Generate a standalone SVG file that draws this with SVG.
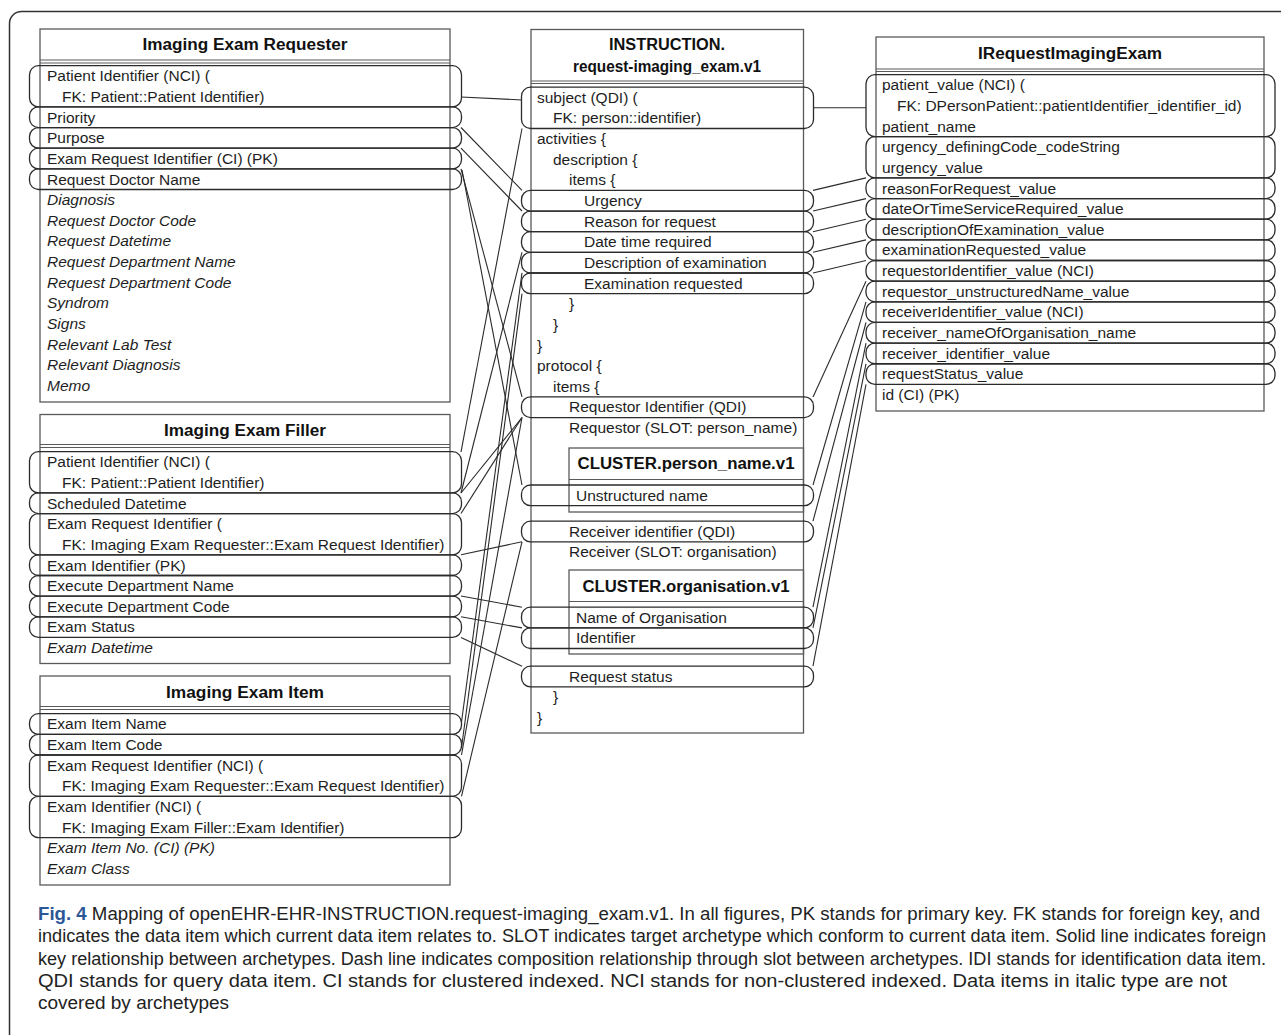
<svg xmlns="http://www.w3.org/2000/svg" width="1281" height="1035" viewBox="0 0 1281 1035">
<style>
.t{font-family:"Liberation Sans",Arial,sans-serif;font-size:15.5px;fill:#1e1e1e}
.i{font-style:italic}
.h{font-family:"Liberation Sans",Arial,sans-serif;font-size:16px;font-weight:bold;fill:#111;text-anchor:middle}
.box{fill:none;stroke:#5a5a5a;stroke-width:1.3}
.sep{stroke:#5a5a5a;stroke-width:1.2}
.row{fill:none;stroke:#2b2b2b;stroke-width:1.3}
#connectors line{stroke:#2b2b2b;stroke-width:1.1}
.cap{font-family:"Liberation Sans",Arial,sans-serif;font-size:17.5px;fill:#222}
.fig{font-weight:bold;fill:#2b5797}
</style>
<rect x="0" y="0" width="1281" height="1035" fill="#ffffff"/>
<rect x="9.5" y="11.5" width="1300" height="1040" rx="12" fill="none" stroke="#333" stroke-width="1.5"/>

<g id="imaging-exam-requester">
<rect class="box" x="40" y="29" width="410" height="373"/>
<line class="sep" x1="40" y1="60" x2="450" y2="60"/>
<line class="sep" x1="40" y1="63" x2="450" y2="63"/>
<text class="h" x="245" y="50" textLength="205" lengthAdjust="spacingAndGlyphs">Imaging Exam Requester</text>
<rect class="row" x="29.5" y="65.7" width="432" height="41.2" rx="9"/>
<rect class="row" x="29.5" y="106.9" width="432" height="20.65" rx="9"/>
<rect class="row" x="29.5" y="127.55" width="432" height="20.65" rx="9"/>
<rect class="row" x="29.5" y="148.2" width="432" height="20.65" rx="9"/>
<rect class="row" x="29.5" y="168.85" width="432" height="20.65" rx="9"/>
<text class="t" x="47" y="81.2">Patient Identifier (NCI) (</text>
<text class="t" x="62" y="101.9">FK: Patient::Patient Identifier)</text>
<text class="t" x="47" y="122.5">Priority</text>
<text class="t" x="47" y="143.2">Purpose</text>
<text class="t" x="47" y="163.8">Exam Request Identifier (CI) (PK)</text>
<text class="t" x="47" y="184.5">Request Doctor Name</text>
<text class="t i" x="47" y="205.1">Diagnosis</text>
<text class="t i" x="47" y="225.8">Request Doctor Code</text>
<text class="t i" x="47" y="246.4">Request Datetime</text>
<text class="t i" x="47" y="267.1">Request Department Name</text>
<text class="t i" x="47" y="287.7">Request Department Code</text>
<text class="t i" x="47" y="308.4">Syndrom</text>
<text class="t i" x="47" y="329">Signs</text>
<text class="t i" x="47" y="349.7">Relevant Lab Test</text>
<text class="t i" x="47" y="370.3">Relevant Diagnosis</text>
<text class="t i" x="47" y="391">Memo</text>
</g>

<g id="imaging-exam-filler">
<rect class="box" x="40" y="414.5" width="410" height="249"/>
<line class="sep" x1="40" y1="444.5" x2="450" y2="444.5"/>
<line class="sep" x1="40" y1="447.5" x2="450" y2="447.5"/>
<text class="h" x="245" y="436" textLength="162" lengthAdjust="spacingAndGlyphs">Imaging Exam Filler</text>
<rect class="row" x="29.5" y="451.7" width="432" height="41.2" rx="9"/>
<rect class="row" x="29.5" y="492.9" width="432" height="20.65" rx="9"/>
<rect class="row" x="29.5" y="513.55" width="432" height="41.3" rx="9"/>
<rect class="row" x="29.5" y="554.85" width="432" height="20.65" rx="9"/>
<rect class="row" x="29.5" y="575.5" width="432" height="20.65" rx="9"/>
<rect class="row" x="29.5" y="596.15" width="432" height="20.65" rx="9"/>
<rect class="row" x="29.5" y="616.8" width="432" height="20.65" rx="9"/>
<text class="t" x="47" y="467.2">Patient Identifier (NCI) (</text>
<text class="t" x="62" y="487.9">FK: Patient::Patient Identifier)</text>
<text class="t" x="47" y="508.5">Scheduled Datetime</text>
<text class="t" x="47" y="529.2">Exam Request Identifier (</text>
<text class="t" x="62" y="549.8">FK: Imaging Exam Requester::Exam Request Identifier)</text>
<text class="t" x="47" y="570.5">Exam Identifier (PK)</text>
<text class="t" x="47" y="591.1">Execute Department Name</text>
<text class="t" x="47" y="611.8">Execute Department Code</text>
<text class="t" x="47" y="632.4">Exam Status</text>
<text class="t i" x="47" y="653.1">Exam Datetime</text>
</g>

<g id="imaging-exam-item">
<rect class="box" x="40" y="676" width="410" height="209"/>
<line class="sep" x1="40" y1="706.5" x2="450" y2="706.5"/>
<line class="sep" x1="40" y1="709.5" x2="450" y2="709.5"/>
<text class="h" x="245" y="698" textLength="158" lengthAdjust="spacingAndGlyphs">Imaging Exam Item</text>
<rect class="row" x="29.5" y="713.7" width="432" height="20.65" rx="9"/>
<rect class="row" x="29.5" y="734.35" width="432" height="20.65" rx="9"/>
<rect class="row" x="29.5" y="755" width="432" height="41.3" rx="9"/>
<rect class="row" x="29.5" y="796.3" width="432" height="41.3" rx="9"/>
<text class="t" x="47" y="729.2">Exam Item Name</text>
<text class="t" x="47" y="749.9">Exam Item Code</text>
<text class="t" x="47" y="770.5">Exam Request Identifier (NCI) (</text>
<text class="t" x="62" y="791.2">FK: Imaging Exam Requester::Exam Request Identifier)</text>
<text class="t" x="47" y="811.8">Exam Identifier (NCI) (</text>
<text class="t" x="62" y="832.5">FK: Imaging Exam Filler::Exam Identifier)</text>
<text class="t i" x="47" y="853.1">Exam Item No. (CI) (PK)</text>
<text class="t i" x="47" y="873.8">Exam Class</text>
</g>

<g id="instruction-request-imaging-exam">
<rect class="box" x="531" y="29.5" width="272.5" height="703.5"/>
<line class="sep" x1="531" y1="81" x2="803.5" y2="81"/>
<line class="sep" x1="531" y1="83.5" x2="803.5" y2="83.5"/>
<text class="h" x="667" y="50" textLength="116" lengthAdjust="spacingAndGlyphs">INSTRUCTION.</text>
<text class="h" x="667" y="72" textLength="188" lengthAdjust="spacingAndGlyphs">request-imaging_exam.v1</text>
<rect class="row" x="521.5" y="87.2" width="292" height="41.3" rx="9"/>
<rect class="row" x="521.5" y="190.4" width="292" height="20.65" rx="9"/>
<rect class="row" x="521.5" y="211.05" width="292" height="20.65" rx="9"/>
<rect class="row" x="521.5" y="231.7" width="292" height="20.65" rx="9"/>
<rect class="row" x="521.5" y="252.35" width="292" height="20.65" rx="9"/>
<rect class="row" x="521.5" y="273" width="292" height="20.65" rx="9"/>
<rect class="row" x="521.5" y="396.9" width="292" height="20.65" rx="9"/>
<text class="t" x="537" y="102.7">subject (QDI) (</text>
<text class="t" x="553" y="123.3">FK: person::identifier)</text>
<text class="t" x="537" y="144">activities {</text>
<text class="t" x="553" y="164.6">description {</text>
<text class="t" x="569" y="185.3">items {</text>
<text class="t" x="584" y="205.9">Urgency</text>
<text class="t" x="584" y="226.6">Reason for request</text>
<text class="t" x="584" y="247.2">Date time required</text>
<text class="t" x="584" y="267.9">Description of examination</text>
<text class="t" x="584" y="288.5">Examination requested</text>
<text class="t" x="569" y="309.2">}</text>
<text class="t" x="553" y="329.8">}</text>
<text class="t" x="537" y="350.5">}</text>
<text class="t" x="537" y="371.1">protocol {</text>
<text class="t" x="553" y="391.8">items {</text>
<text class="t" x="569" y="412.4">Requestor Identifier (QDI)</text>
<text class="t" x="569" y="433.1">Requestor (SLOT: person_name)</text>
<g id="cluster-person-name">
<rect class="box" x="569" y="448" width="234.5" height="64"/>
<line class="sep" x1="569" y1="479.5" x2="803.5" y2="479.5"/>
<text class="h" x="686" y="469" textLength="217" lengthAdjust="spacingAndGlyphs">CLUSTER.person_name.v1</text>
<rect class="row" x="521.5" y="485" width="292" height="20.65" rx="9"/>
<text class="t" x="576" y="500.5">Unstructured name</text>
</g>
<rect class="row" x="521.5" y="521.2" width="292" height="20.65" rx="9"/>
<text class="t" x="569" y="536.7">Receiver identifier (QDI)</text>
<text class="t" x="569" y="557.3">Receiver (SLOT: organisation)</text>
<g id="cluster-organisation">
<rect class="box" x="569" y="570" width="234.5" height="84"/>
<line class="sep" x1="569" y1="601.5" x2="803.5" y2="601.5"/>
<text class="h" x="686" y="591.5" textLength="207" lengthAdjust="spacingAndGlyphs">CLUSTER.organisation.v1</text>
<rect class="row" x="521.5" y="607.2" width="292" height="20.65" rx="9"/>
<rect class="row" x="521.5" y="627.85" width="292" height="20.65" rx="9"/>
<text class="t" x="576" y="622.7">Name of Organisation</text>
<text class="t" x="576" y="643.3">Identifier</text>
</g>
<rect class="row" x="521.5" y="666.2" width="292" height="20.65" rx="9"/>
<text class="t" x="569" y="681.7">Request status</text>
<text class="t" x="553" y="702.3">}</text>
<text class="t" x="537" y="723">}</text>
</g>

<g id="irequest-imaging-exam">
<rect class="box" x="876" y="37" width="388" height="374"/>
<line class="sep" x1="876" y1="69" x2="1264" y2="69"/>
<line class="sep" x1="876" y1="71.5" x2="1264" y2="71.5"/>
<text class="h" x="1070" y="59" textLength="184" lengthAdjust="spacingAndGlyphs">IRequestImagingExam</text>
<rect class="row" x="866" y="74.7" width="409" height="61.9" rx="9"/>
<rect class="row" x="866" y="136.6" width="409" height="41.3" rx="9"/>
<rect class="row" x="866" y="177.9" width="409" height="20.65" rx="9"/>
<rect class="row" x="866" y="198.55" width="409" height="20.65" rx="9"/>
<rect class="row" x="866" y="219.2" width="409" height="20.65" rx="9"/>
<rect class="row" x="866" y="239.85" width="409" height="20.65" rx="9"/>
<rect class="row" x="866" y="260.5" width="409" height="20.65" rx="9"/>
<rect class="row" x="866" y="281.15" width="409" height="20.65" rx="9"/>
<rect class="row" x="866" y="301.8" width="409" height="20.65" rx="9"/>
<rect class="row" x="866" y="322.45" width="409" height="20.65" rx="9"/>
<rect class="row" x="866" y="343.1" width="409" height="20.65" rx="9"/>
<rect class="row" x="866" y="363.75" width="409" height="20.65" rx="9"/>
<text class="t" x="882" y="90.2">patient_value (NCI) (</text>
<text class="t" x="897" y="110.8">FK: DPersonPatient::patientIdentifier_identifier_id)</text>
<text class="t" x="882" y="131.5">patient_name</text>
<text class="t" x="882" y="152.2">urgency_definingCode_codeString</text>
<text class="t" x="882" y="172.8">urgency_value</text>
<text class="t" x="882" y="193.5">reasonForRequest_value</text>
<text class="t" x="882" y="214.1">dateOrTimeServiceRequired_value</text>
<text class="t" x="882" y="234.8">descriptionOfExamination_value</text>
<text class="t" x="882" y="255.4">examinationRequested_value</text>
<text class="t" x="882" y="276.1">requestorIdentifier_value (NCI)</text>
<text class="t" x="882" y="296.7">requestor_unstructuredName_value</text>
<text class="t" x="882" y="317.4">receiverIdentifier_value (NCI)</text>
<text class="t" x="882" y="338">receiver_nameOfOrganisation_name</text>
<text class="t" x="882" y="358.7">receiver_identifier_value</text>
<text class="t" x="882" y="379.3">requestStatus_value</text>
<text class="t" x="882" y="400">id (CI) (PK)</text>
</g>

<g id="connectors">
<line x1="461" y1="97" x2="522" y2="100"/>
<line x1="461" y1="127.5" x2="522" y2="190.4"/>
<line x1="461" y1="148.2" x2="522" y2="211"/>
<line x1="461" y1="168.8" x2="522" y2="396.9"/>
<line x1="462" y1="170" x2="522" y2="485"/>
<line x1="461" y1="452" x2="522" y2="128.5"/>
<line x1="461" y1="493" x2="522" y2="252.3"/>
<line x1="461" y1="493" x2="522" y2="417.5"/>
<line x1="461" y1="513.5" x2="522" y2="417.5"/>
<line x1="461" y1="554.8" x2="522" y2="541.8"/>
<line x1="461" y1="596" x2="522" y2="607.2"/>
<line x1="461" y1="616.8" x2="522" y2="627.9"/>
<line x1="461" y1="637.4" x2="522" y2="666.2"/>
<line x1="461.5" y1="722" x2="522" y2="272.9"/>
<line x1="461.5" y1="748" x2="522" y2="293.6"/>
<line x1="461.5" y1="755" x2="522" y2="417.5"/>
<line x1="461.5" y1="796.3" x2="522" y2="541.8"/>
<line x1="813" y1="107.8" x2="866" y2="107.8"/>
<line x1="813" y1="190.4" x2="866" y2="177.9"/>
<line x1="813" y1="211" x2="866" y2="198.6"/>
<line x1="813" y1="231.7" x2="866" y2="219.2"/>
<line x1="813" y1="252.3" x2="866" y2="239.9"/>
<line x1="813" y1="273" x2="866" y2="260.5"/>
<line x1="813" y1="396.9" x2="866" y2="281.2"/>
<line x1="813" y1="485" x2="866" y2="301.8"/>
<line x1="813" y1="521.2" x2="866" y2="322.5"/>
<line x1="813" y1="607.2" x2="866" y2="343.1"/>
<line x1="813" y1="627.9" x2="866" y2="363.8"/>
<line x1="813" y1="666.2" x2="866" y2="384.4"/>
</g>

<g id="caption">
<text class="cap" x="38" y="919.5" textLength="1222" lengthAdjust="spacingAndGlyphs"><tspan class="fig">Fig. 4</tspan> Mapping of openEHR-EHR-INSTRUCTION.request-imaging_exam.v1. In all figures, PK stands for primary key. FK stands for foreign key, and</text>
<text class="cap" x="38" y="942" textLength="1228" lengthAdjust="spacingAndGlyphs">indicates the data item which current data item relates to. SLOT indicates target archetype which conform to current data item. Solid line indicates foreign</text>
<text class="cap" x="38" y="964.5" textLength="1228" lengthAdjust="spacingAndGlyphs">key relationship between archetypes. Dash line indicates composition relationship through slot between archetypes. IDI stands for identification data item.</text>
<text class="cap" x="38" y="986.5" textLength="1189" lengthAdjust="spacingAndGlyphs">QDI stands for query data item. CI stands for clustered indexed. NCI stands for non-clustered indexed. Data items in italic type are not</text>
<text class="cap" x="38" y="1008.5" textLength="191" lengthAdjust="spacingAndGlyphs">covered by archetypes</text>
</g>
</svg>
